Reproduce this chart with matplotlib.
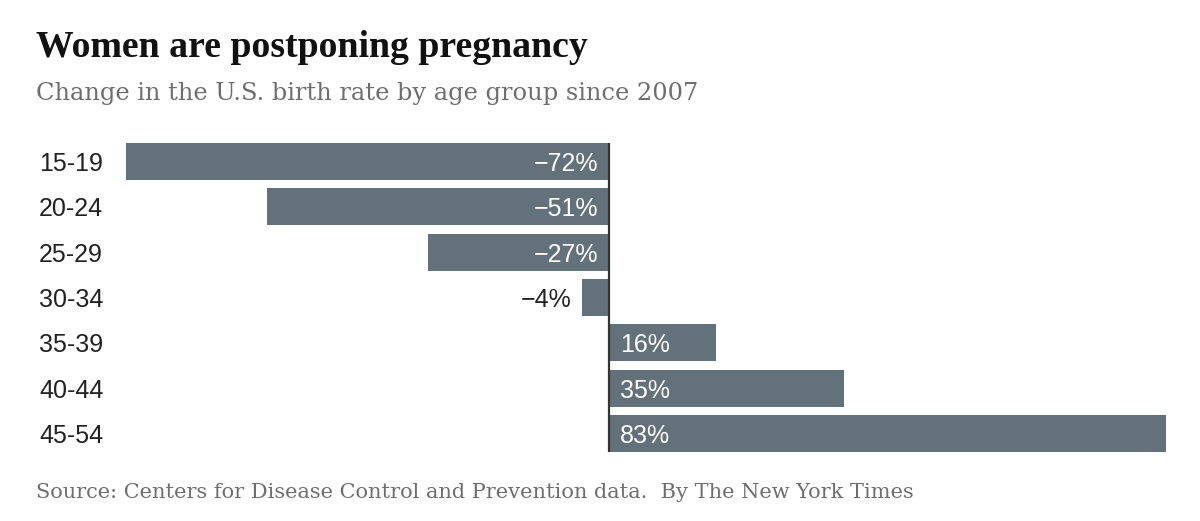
import matplotlib
matplotlib.use("Agg")
import matplotlib.pyplot as plt

categories = ["15-19", "20-24", "25-29", "30-34", "35-39", "40-44", "45-54"]
values = [-72, -51, -27, -4, 16, 35, 83]
labels = ["\u221272%", "\u221251%", "\u221227%", "\u22124%", "16%", "35%", "83%"]

W, H = 1200, 521
fig = plt.figure(figsize=(W / 100, H / 100), dpi=100)

left_px, right_px = 126, 1166
top_px, bot_px = 143, 452
ax = fig.add_axes([left_px / W, 1 - bot_px / H, (right_px - left_px) / W, (bot_px - top_px) / H])

bar_color = "#63717a"
ypos = list(range(len(categories)))
ax.barh(ypos, values, height=0.816, color=bar_color, edgecolor="none")
ax.set_xlim(min(values), max(values))
ax.set_ylim(len(categories) - 1 + 0.408, -0.408)
ax.axvline(0, color="#333333", linewidth=1.6)
ax.axis("off")

sans = ["Liberation Sans", "DejaVu Sans"]
px_per_unit = (right_px - left_px) / (max(values) - min(values))

for y, v, lab, cat in zip(ypos, values, labels, categories):
    ax.annotate(cat, xy=(0, y), xycoords=("figure fraction", "data"), xytext=(39, 0),
                textcoords="offset pixels", ha="left", va="center_baseline", fontsize=18,
                color="#222222", family=sans)
    if v < 0:
        if abs(v) * px_per_unit > 70:
            ax.annotate(lab, xy=(0, y), xytext=(-11, 0), textcoords="offset pixels",
                        ha="right", va="center_baseline", fontsize=18, color="white", family=sans)
        else:
            ax.annotate(lab, xy=(v, y), xytext=(-11, 0), textcoords="offset pixels",
                        ha="right", va="center_baseline", fontsize=18, color="#222222", family=sans)
    else:
        ax.annotate(lab, xy=(0, y), xytext=(11, 0), textcoords="offset pixels",
                    ha="left", va="center_baseline", fontsize=18, color="white", family=sans)

fig.text(36 / W, 1 - 57 / H, "Women are postponing pregnancy", fontsize=27.2,
         fontweight="bold", family=["Liberation Serif", "DejaVu Serif"], color="#111111",
         ha="left", va="baseline")
fig.text(36 / W, 1 - 100 / H, "Change in the U.S. birth rate by age group since 2007", fontsize=17.4,
         family=["DejaVu Serif"], color="#6e6e6e", ha="left", va="baseline")
fig.text(36 / W, 1 - 498 / H, "Source: Centers for Disease Control and Prevention data.  By The New York Times",
         fontsize=15, family=["DejaVu Serif"], color="#6e6e6e", ha="left", va="baseline")

fig.savefig("out.png", dpi=100, facecolor="white")
